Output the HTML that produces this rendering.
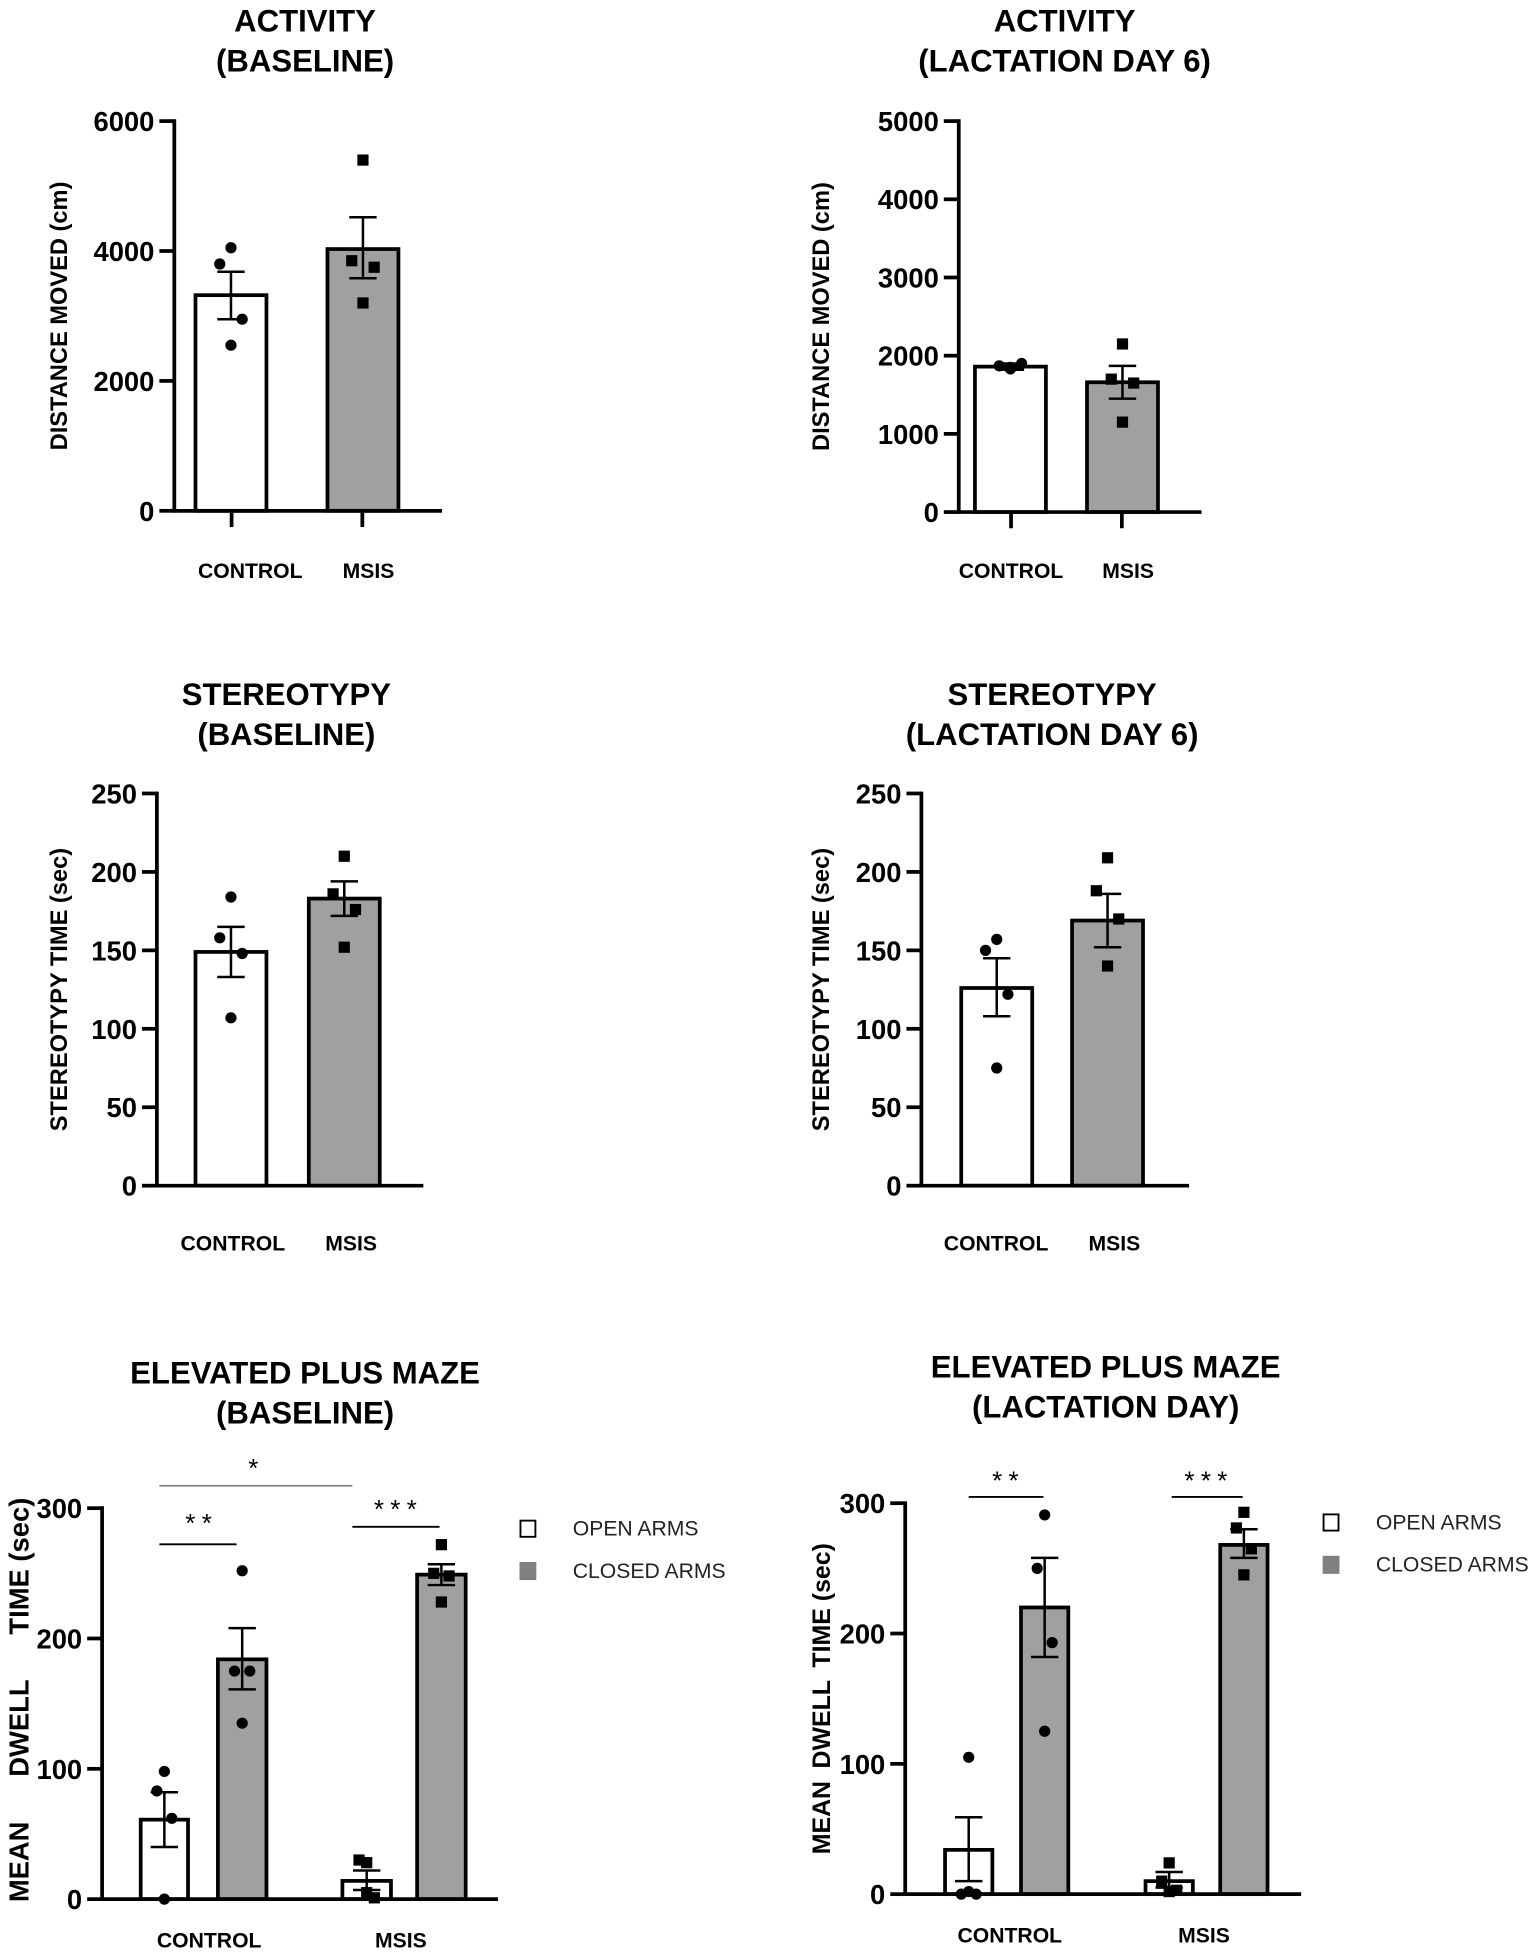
<!DOCTYPE html>
<html><head><meta charset="utf-8"><style>
html,body{margin:0;padding:0;background:#fff;}
svg{display:block;font-family:"Liberation Sans",Arial,sans-serif;}
</style></head><body>
<svg id="fig" width="1534" height="1953" viewBox="0 0 1232 1568" xmlns="http://www.w3.org/2000/svg"></svg>
<script>
// ---- Activity baseline ----
const actBaseCats = ["CONTROL","MSIS"];
const actBaseMeans = [3320, 4030];
const actBaseErrHi = [3680, 4520];
const actBaseErrLo = [2950, 3580];
const actBasePts = [[4050,3800,2950,2550],[5400,3850,3750,3200]];
const actBaseTicks = [0,2000,4000,6000];
// ---- Activity lactation ----
const actLacCats = ["CONTROL","MSIS"];
const actLacMeans = [1860, 1660];
const actLacErrHi = [1900, 1870];
const actLacErrLo = [1820, 1450];
const actLacPts = [[1850,1870,1900,1830],[2150,1700,1650,1150]];
const actLacTicks = [0,1000,2000,3000,4000,5000];
// ---- Stereotypy baseline ----
const stBaseCats = ["CONTROL","MSIS"];
const stBaseMeans = [149, 183];
const stBaseErrHi = [165, 194];
const stBaseErrLo = [133, 172];
const stBasePts = [[184,158,148,107],[210,186,176,152]];
const stBaseTicks = [0,50,100,150,200,250];
// ---- Stereotypy lactation ----
const stLacCats = ["CONTROL","MSIS"];
const stLacMeans = [126, 169];
const stLacErrHi = [145, 186];
const stLacErrLo = [108, 152];
const stLacPts = [[157,150,122,75],[209,188,170,140]];
const stLacTicks = [0,50,100,150,200,250];
// ---- EPM baseline (open ctrl, closed ctrl, open msis, closed msis) ----
const epmBaseMeans = [61, 184, 14, 249];
const epmBaseErrHi = [82, 208, 22, 257];
const epmBaseErrLo = [40, 161, 7, 241];
const epmBasePts = [[98,83,62,0],[252,175,175,135],[28,30,1,5],[272,250,248,228]];
const epmTicks = [0,100,200,300];
// ---- EPM lactation ----
const epmLacMeans = [34, 220, 10, 268];
const epmLacErrHi = [59, 258, 17, 280];
const epmLacErrLo = [10, 182, 5, 258];
const epmLacPts = [[105,0,0,2],[291,250,193,125],[24,10,3,2],[293,281,265,245]];
const epmCats = ["CONTROL","MSIS"];
const epmLegend = ["OPEN ARMS","CLOSED ARMS"];

const NS="http://www.w3.org/2000/svg";
const fig=document.getElementById('fig');
function mk(tag,attrs,parent,txt){const e=document.createElementNS(NS,tag);for(const k in attrs)e.setAttribute(k,attrs[k]);if(txt!==undefined)e.textContent=txt;(parent||fig).appendChild(e);return e;}

function chart(c){
  const g=mk('g',{});
  
  
  const y=v=>c.y0-(v/c.max)*(c.y0-c.yTop);
  c.title.forEach((t,i)=>{const e=mk('text',{x:c.tx,y:c.ty+i*32,'text-anchor':'middle','font-size':25,'font-weight':'bold'},g,t);
    });
  const yl=mk('text',{x:0,y:0,transform:`translate(${c.ylx},${(c.y0+c.yTop)/2+(c.yloff||0)}) rotate(-90)`,'text-anchor':'middle','font-size':c.ylfs||19,'font-weight':'bold','dominant-baseline':'central'},g);
  
  if(c.ylparts){c.ylparts.forEach((p,i)=>mk('tspan',{dx:i?c.ylgaps[i-1]:0},yl,p));}
  else yl.textContent=c.ylabel;
  const off=[0,-9,9,0];
  c.bars.forEach((b,i)=>{
    const top=y(c.means[i]);
    const r=mk('rect',{x:b.x,y:top,width:b.w,height:c.y0-top,fill:b.fill,stroke:'#000','stroke-width':3},g);
    
    const cx=b.x+b.w/2, hi=y(c.hi[i]), lo=y(c.lo[i]);
    const eb=mk('path',{d:`M${cx},${hi}V${lo}M${cx-11},${hi}H${cx+11}M${cx-11},${lo}H${cx+11}`,stroke:'#000','stroke-width':2,fill:'none'},g);
    
    c.pts[i].forEach((v,j)=>{
      const px=cx+off[j]*(b.w/57), py=y(v);
      let m;
      if(b.sq) m=mk('rect',{x:px-4.5,y:py-4.5,width:9,height:9,fill:'#000'},g);
      else m=mk('circle',{cx:px,cy:py,r:4.5,fill:'#000'},g);
      
    });
  });
  const ax=mk('path',{d:`M${c.ax},${c.yTop-1.5}V${c.y0}M${c.ax-1.5},${c.y0}H${c.xEnd}`,stroke:'#000','stroke-width':3,fill:'none'},g);
  
  c.ticks.forEach(t=>{
    const ty=y(t);
    mk('line',{x1:c.ax-12,x2:c.ax,y1:ty,y2:ty,stroke:'#000','stroke-width':3},g);
    const tl=mk('text',{x:c.ax-16,y:ty+8,'text-anchor':'end','font-size':22,'font-weight':'bold'},g,t);
    
  });
  c.cats.forEach((n,i)=>{
    if(c.catTicks) mk('line',{x1:c.catTicks[i],x2:c.catTicks[i],y1:c.y0,y2:c.y0+13,stroke:'#000','stroke-width':3},g);
    const cl=mk('text',{x:c.catX[i],y:c.catY,'text-anchor':'middle','font-size':17,'font-weight':'bold'},g,n);
    
  });
  return {g,y};
}
function legend(x,y0,g){
  epmLegend.forEach((t,i)=>{
    const yy=y0+i*34;
    const s=mk('rect',{x:x-6,y:yy-6,width:12,height:13,fill:i?'#808080':'#fff',stroke:i?'#808080':'#000','stroke-width':1.5},g);
    
    const e=mk('text',{x:x+36,y:yy+6,'font-size':17,fill:'#222'},g,t);
    
  });
}
function sig(g,x1,x2,ly,star,sx,sy,col){
  mk('line',{x1,x2,y1:ly,y2:ly,stroke:col||'#000','stroke-width':1.5},g);
  const e=mk('text',{x:sx,y:sy,'text-anchor':'middle','font-size':21,'letter-spacing':5},g,star);
  
}

chart({name:'activity-baseline-chart',title:['ACTIVITY','(BASELINE)'],tx:245,ty:25,ylabel:'DISTANCE MOVED (cm)',ylx:48,
  ax:140,y0:410,yTop:97,max:6000,ticks:actBaseTicks,xEnd:355,means:actBaseMeans,hi:actBaseErrHi,lo:actBaseErrLo,pts:actBasePts,
  bars:[{x:157,w:57,fill:'#fff'},{x:263,w:57,fill:'#a0a0a0',sq:true}],cats:actBaseCats,catX:[201,296],catY:464,catTicks:[186,291]});
chart({name:'activity-lactation-chart',title:['ACTIVITY','(LACTATION DAY 6)'],tx:855,ty:25,ylabel:'DISTANCE MOVED (cm)',ylx:660,
  ax:770,y0:411,yTop:97,max:5000,ticks:actLacTicks,xEnd:965,means:actLacMeans,hi:actLacErrHi,lo:actLacErrLo,pts:actLacPts,
  bars:[{x:783,w:57,fill:'#fff'},{x:873,w:57,fill:'#a0a0a0',sq:true}],cats:actLacCats,catX:[812,906],catY:464,catTicks:[812,901]});
chart({name:'stereotypy-baseline-chart',title:['STEREOTYPY','(BASELINE)'],tx:230,ty:566,ylabel:'STEREOTYPY TIME (sec)',ylx:48,
  ax:126,y0:952,yTop:637,max:250,ticks:stBaseTicks,xEnd:340,means:stBaseMeans,hi:stBaseErrHi,lo:stBaseErrLo,pts:stBasePts,
  bars:[{x:157,w:57,fill:'#fff'},{x:248,w:57,fill:'#a0a0a0',sq:true}],cats:stBaseCats,catX:[187,282],catY:1004});
chart({name:'stereotypy-lactation-chart',title:['STEREOTYPY','(LACTATION DAY 6)'],tx:845,ty:566,ylabel:'STEREOTYPY TIME (sec)',ylx:660,
  ax:740,y0:952,yTop:637,max:250,ticks:stLacTicks,xEnd:955,means:stLacMeans,hi:stLacErrHi,lo:stLacErrLo,pts:stLacPts,
  bars:[{x:772,w:57,fill:'#fff'},{x:861,w:57,fill:'#a0a0a0',sq:true}],cats:stLacCats,catX:[800,895],catY:1004});

const e1=chart({name:'epm-baseline-chart',title:['ELEVATED PLUS MAZE','(BASELINE)'],tx:245,ty:1111,ylparts:['MEAN','DWELL','TIME (sec)'],ylgaps:[36,36],ylx:15,ylfs:22,yloff:-3,
  ax:82,y0:1525,yTop:1211,max:300,ticks:epmTicks,xEnd:400,means:epmBaseMeans,hi:epmBaseErrHi,lo:epmBaseErrLo,pts:epmBasePts,
  bars:[{x:113,w:38,fill:'#fff'},{x:175,w:39,fill:'#a0a0a0'},{x:275,w:39,fill:'#fff',sq:true},{x:335,w:39,fill:'#a0a0a0',sq:true}],
  cats:epmCats,catX:[168,322],catY:1564});
sig(e1.g,128,283,1193,'*',206,1186,'#888');
sig(e1.g,128,190,1240,'**',162,1230);
sig(e1.g,283,353,1226,'***',320,1219);
legend(424,1227,e1.g);

const e2=chart({name:'epm-lactation-chart',title:['ELEVATED PLUS MAZE','(LACTATION DAY)'],tx:888,ty:1106,ylparts:['MEAN','DWELL','TIME (sec)'],ylgaps:[10,10],ylx:660,ylfs:20,
  ax:727,y0:1521,yTop:1207,max:300,ticks:epmTicks,xEnd:1045,means:epmLacMeans,hi:epmLacErrHi,lo:epmLacErrLo,pts:epmLacPts,
  bars:[{x:759,w:38,fill:'#fff'},{x:820,w:38,fill:'#a0a0a0'},{x:920,w:38,fill:'#fff',sq:true},{x:980,w:38,fill:'#a0a0a0',sq:true}],
  cats:epmCats,catX:[811,967],catY:1560});
sig(e2.g,778,838,1202,'**',810,1196);
sig(e2.g,941,998,1202,'***',971,1196);
legend(1069,1222,e2.g);
</script>
</body></html>
